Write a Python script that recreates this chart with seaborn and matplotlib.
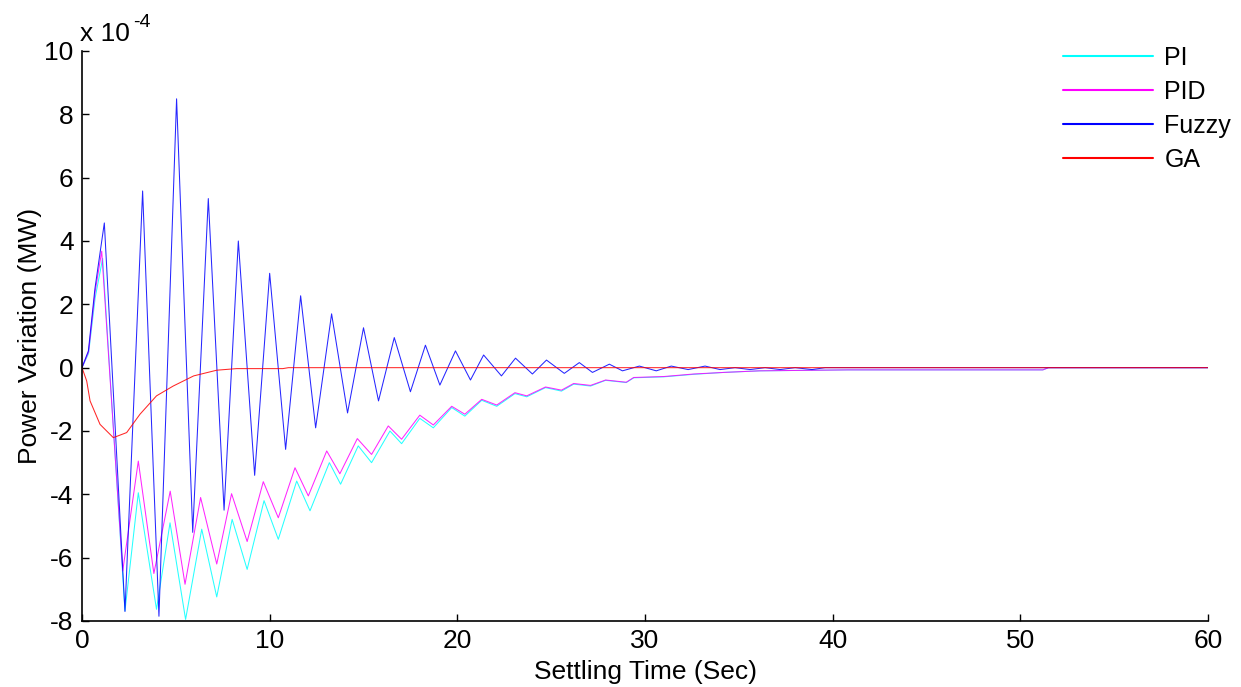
import matplotlib
matplotlib.use("Agg")
import matplotlib.pyplot as plt
import seaborn as sns
import pandas as pd
from matplotlib.lines import Line2D

# ---------------- data (values in units of 1e-4 MW) ----------------
pi_t = [0, 0.35, 0.7, 1.1, 2.29, 3.0, 3.97, 4.69, 5.52, 6.38, 7.18, 8.0, 8.8, 9.7, 10.46,
        11.44, 12.15, 13.18, 13.78, 14.72, 15.43, 16.41, 17.03, 18.0, 18.72, 19.7, 20.4,
        21.3, 22.1, 23.07, 23.7, 24.7, 25.55, 26.2, 27.1, 27.9, 29.0, 29.4, 31.0, 32.6,
        34.2, 36.1, 40.8, 51.2, 51.5, 60]
pi_v = [0, 0.45, 2.2, 3.45, -7.68, -3.95, -7.63, -4.9, -7.95, -5.1, -7.24, -4.79, -6.37,
        -4.2, -5.42, -3.58, -4.52, -3.0, -3.68, -2.47, -3.0, -2.0, -2.4, -1.6, -1.9, -1.26,
        -1.53, -1.03, -1.22, -0.82, -0.92, -0.63, -0.74, -0.52, -0.58, -0.4, -0.47, -0.32,
        -0.29, -0.21, -0.15, -0.1, -0.07, -0.07, 0, 0]

pid_t = [0, 0.35, 0.7, 1.05, 2.17, 3.0, 3.83, 4.7, 5.49, 6.32, 7.18, 7.97, 8.8, 9.66, 10.46,
         11.35, 12.06, 13.04, 13.74, 14.67, 15.43, 16.32, 17.03, 18.0, 18.72, 19.7, 20.4,
         21.3, 22.1, 23.07, 23.7, 24.7, 25.55, 26.2, 27.1, 27.9, 29.0, 29.4, 31.0, 32.6,
         34.2, 36.1, 40.8, 51.2, 51.5, 60]
pid_v = [0, 0.5, 2.4, 3.68, -6.42, -2.95, -6.5, -3.9, -6.84, -4.1, -6.2, -3.98, -5.49, -3.6,
         -4.74, -3.16, -4.05, -2.63, -3.35, -2.24, -2.74, -1.84, -2.26, -1.5, -1.81, -1.22,
         -1.47, -1.0, -1.18, -0.79, -0.89, -0.61, -0.71, -0.5, -0.56, -0.39, -0.46, -0.31,
         -0.28, -0.2, -0.15, -0.1, -0.07, -0.07, 0, 0]

fuzzy_t = [0, 0.34, 0.69, 1.19, 2.29, 3.23, 4.1, 5.04, 5.9, 6.73, 7.57, 8.33, 9.2, 10.0,
           10.85, 11.65, 12.45, 13.3, 14.15, 15.0, 15.8, 16.64, 17.5, 18.3, 19.07, 19.9,
           20.7, 21.4, 22.35, 23.1, 24.0, 24.75, 25.7, 26.5, 27.2, 28.1, 28.8, 29.7, 30.6,
           31.4, 32.3, 33.2, 34.0, 34.8, 35.6, 36.4, 37.2, 38.0, 38.9, 39.6, 60]
fuzzy_v = [0, 0.53, 2.5, 4.57, -7.7, 5.58, -7.85, 8.49, -5.2, 5.34, -4.5, 4.0, -3.4, 2.98,
           -2.58, 2.27, -1.9, 1.7, -1.43, 1.26, -1.05, 0.95, -0.76, 0.71, -0.55, 0.53,
           -0.39, 0.4, -0.26, 0.3, -0.2, 0.24, -0.18, 0.16, -0.15, 0.11, -0.1, 0.05, -0.1,
           0.05, -0.06, 0.05, -0.06, 0, -0.06, 0, -0.06, 0, -0.06, 0, 0]

ga_t = [0, 0.25, 0.43, 0.96, 1.67, 2.38, 3.09, 3.97, 4.86, 5.95, 7.18, 8.24, 10.7, 11.0, 60]
ga_v = [0, -0.42, -1.05, -1.79, -2.21, -2.05, -1.47, -0.89, -0.58, -0.26, -0.08, -0.03,
        -0.03, 0, 0]

series_names = ["PI", "PID", "Fuzzy", "GA"]
colors = {"PI": "#00ffff", "PID": "#ff00ff", "Fuzzy": "#0000ff", "GA": "#ff0000"}

x_ticks = [0, 10, 20, 30, 40, 50, 60]
y_ticks = [-8, -6, -4, -2, 0, 2, 4, 6, 8, 10]

# ---------------- build long table ----------------
frames = []
for name, t, v in [("PI", pi_t, pi_v), ("PID", pid_t, pid_v),
                   ("Fuzzy", fuzzy_t, fuzzy_v), ("GA", ga_t, ga_v)]:
    frames.append(pd.DataFrame({"time": t, "value": v, "controller": name}))
df = pd.concat(frames, ignore_index=True)

sns.set_style("white")
plt.rcParams["font.family"] = ["Liberation Sans", "DejaVu Sans"]
plt.rcParams["axes.unicode_minus"] = False
plt.rcParams["text.color"] = "black"
plt.rcParams["axes.labelcolor"] = "black"

fig = plt.figure(figsize=(12.41, 6.87), dpi=100)
ax = fig.add_axes([82 / 1241, 66 / 687, 1126 / 1241, 570 / 687])

sns.lineplot(data=df, x="time", y="value", hue="controller", hue_order=series_names,
             palette=colors, estimator=None, sort=False, units="controller",
             linewidth=0.75, alpha=0.85, ax=ax, legend=False)

ax.set_xlim(0, 60)
ax.set_ylim(-8, 10)
ax.set_xticks(x_ticks)
ax.set_yticks(y_ticks)
ax.set_xticklabels([str(v) for v in x_ticks])
ax.set_yticklabels([str(v) for v in y_ticks])
ax.tick_params(axis="both", direction="in", length=5, width=1, labelsize=19,
               colors="black", labelcolor="black", pad=6, left=True, bottom=True)
for side in ["top", "right"]:
    ax.spines[side].set_visible(False)
for side in ["left", "bottom"]:
    ax.spines[side].set_color("black")
    ax.spines[side].set_linewidth(1.2)

ax.set_xlabel("Settling Time (Sec)", fontsize=19, labelpad=5, color="black")
ax.set_ylabel("Power Variation (MW)", fontsize=19, labelpad=2, color="black")

fig.text(80 / 1241, 1 - 41 / 687, "x 10", fontsize=19, ha="left", va="baseline",
         color="black")
fig.text(133 / 1241, 1 - 27 / 687, "-4", fontsize=14, ha="left", va="baseline",
         color="black")

handles = [Line2D([], [], color=colors[n], linewidth=1.5) for n in series_names]
fig.legend(handles, series_names, loc="upper left",
           bbox_to_anchor=(1063 / 1241, 1 - 46 / 687), frameon=False,
           fontsize=18, handlelength=3.6, handletextpad=0.45, labelspacing=0.4,
           borderpad=0, borderaxespad=0, labelcolor="black")

fig.savefig("out.png", dpi=100)
